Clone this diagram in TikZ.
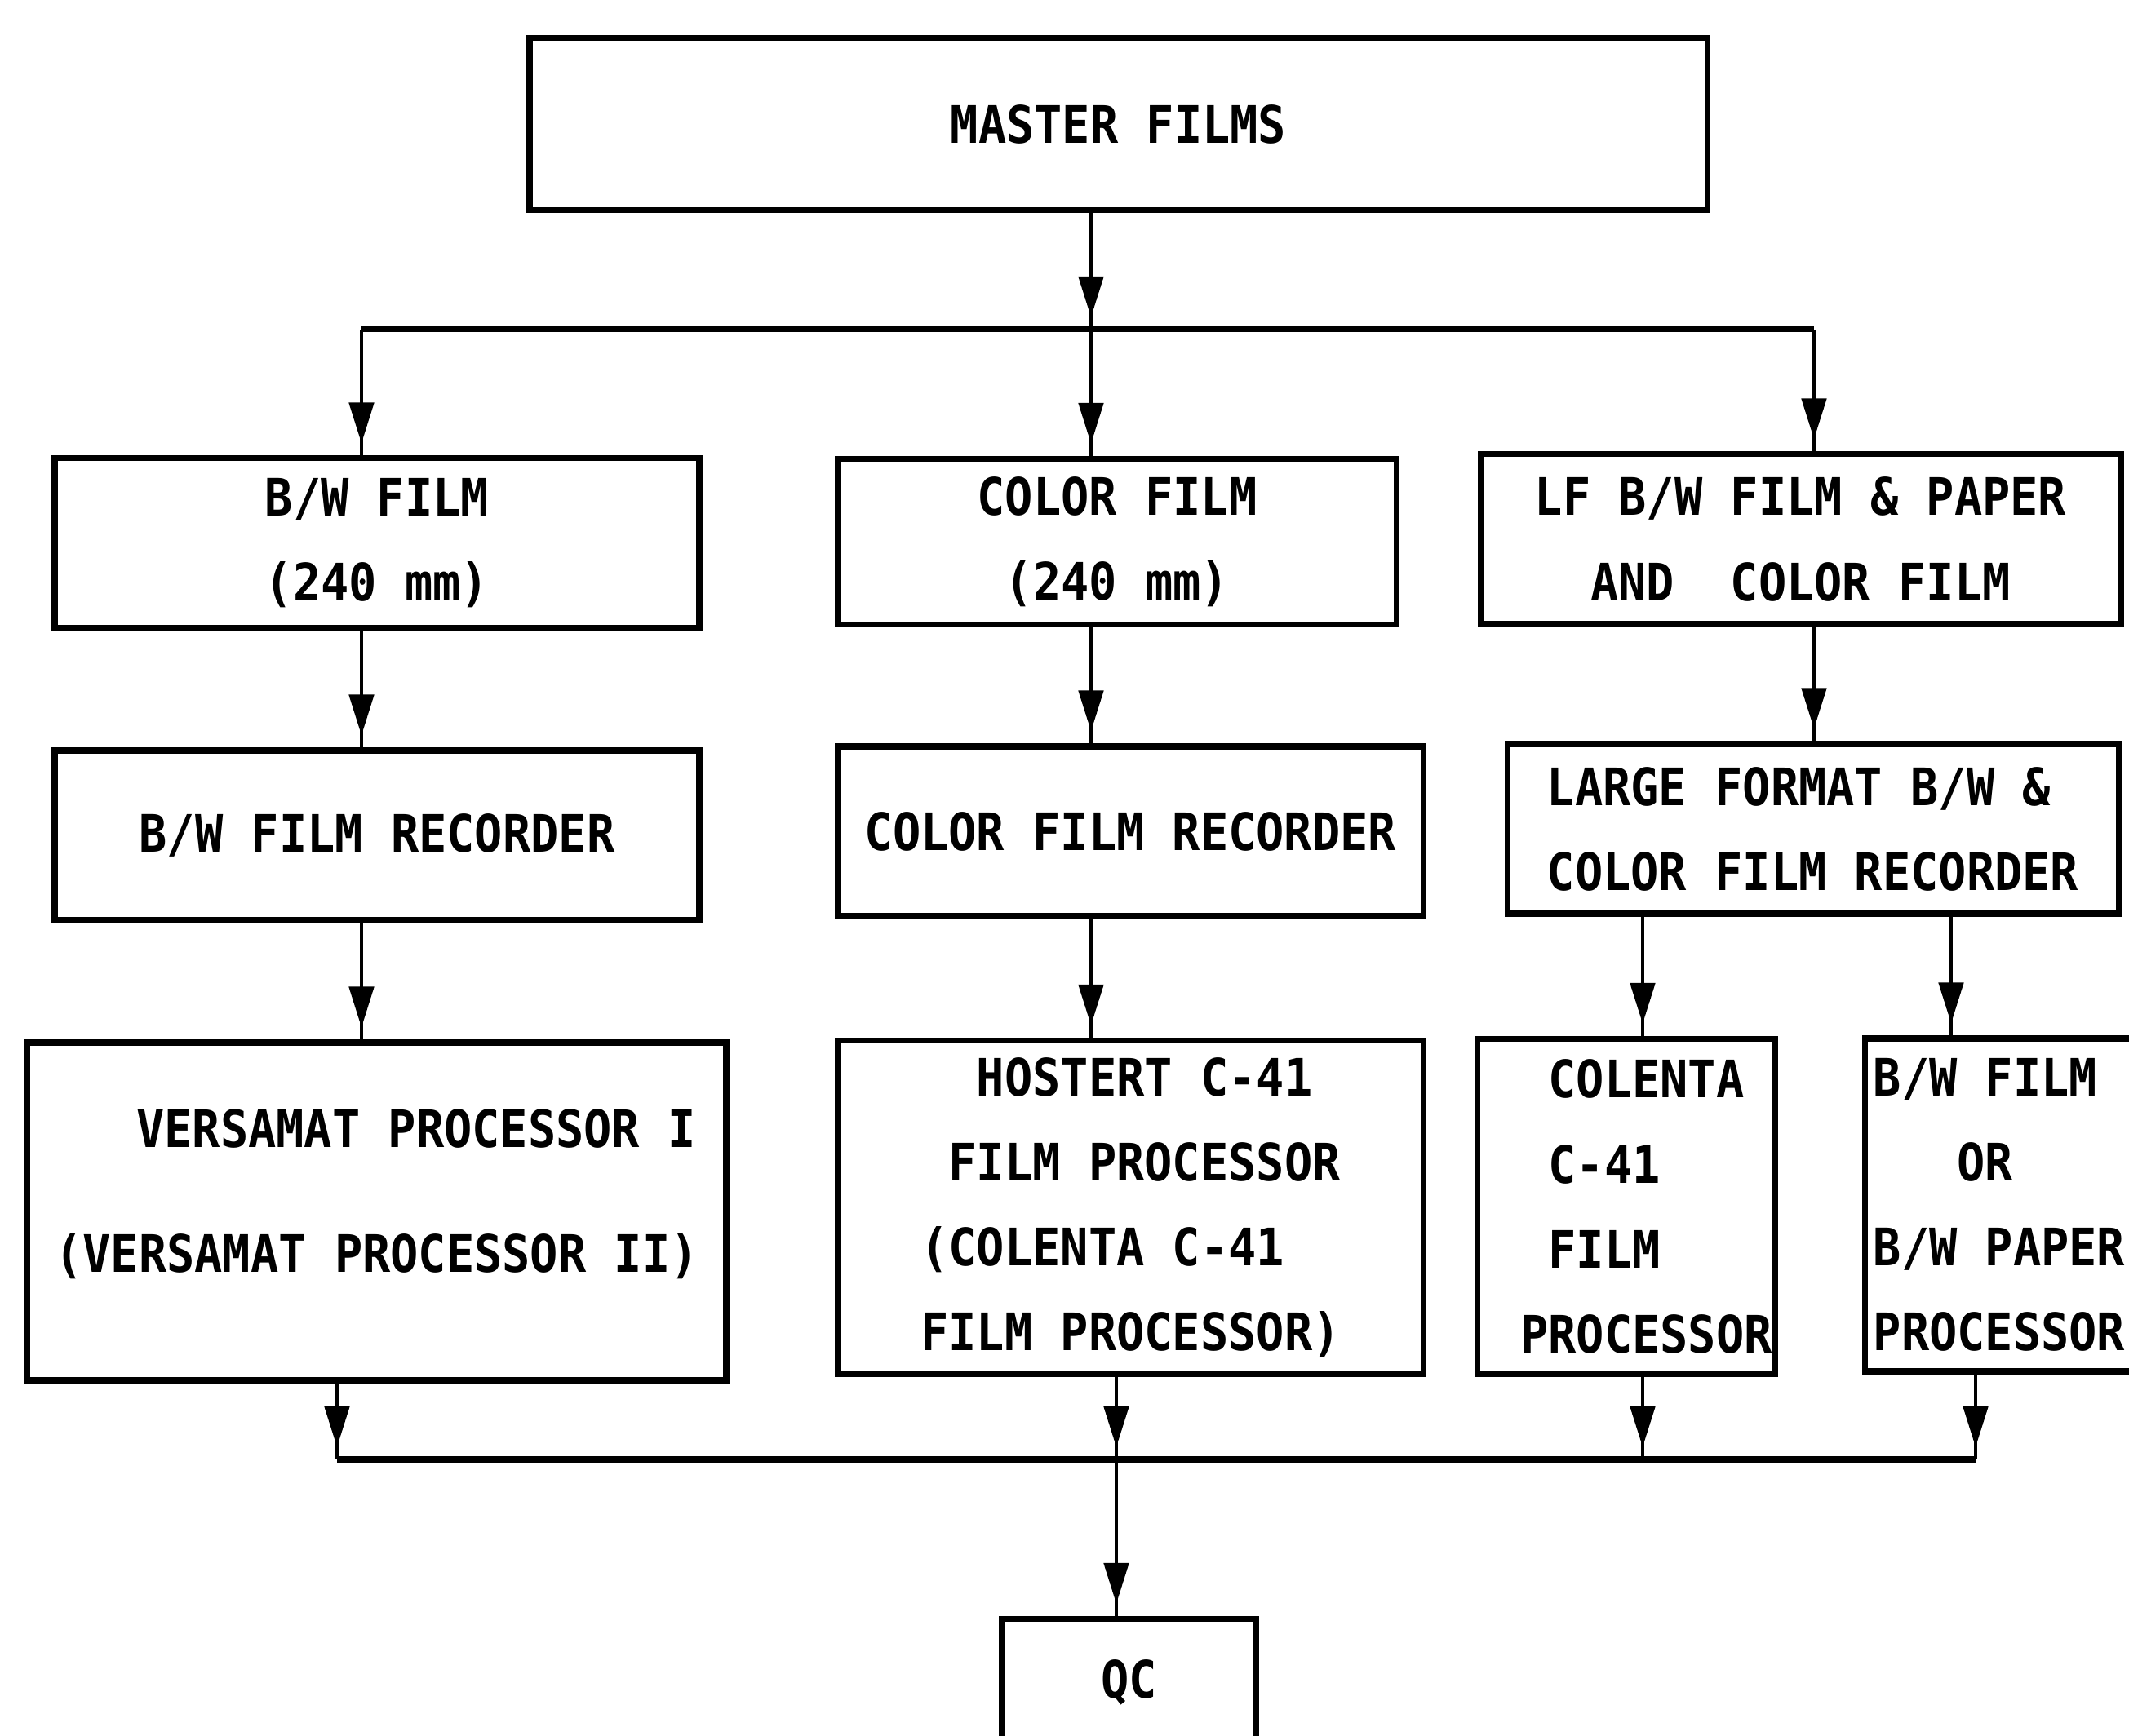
\documentclass[tikz,border=0pt]{standalone}
\usepackage{fontspec}
\setmonofont{DejaVu Sans Mono}[FakeStretch=0.9]
\usetikzlibrary{arrows.meta,decorations.markings}

\begin{document}
\begin{tikzpicture}[
  box/.style={draw, line width=2pt, inner sep=0pt, font=\ttfamily\bfseries\fontsize{18pt}{29.6pt}\selectfont},
  busline/.style={line width=2pt},
  conn/.style={line width=1.4pt, postaction={decorate},
    decoration={markings, mark=at position -1.5mm with {\arrow{Triangle[width=3mm,length=5mm]}}}}]
  \useasboundingbox (0,0) rectangle (26.09,21.27);

  \node[box, minimum width=14.43cm, minimum height=2.11cm] (master) at (13.705,19.745) {MASTER FILMS};

  \node[box, align=center, minimum width=7.90cm, minimum height=2.08cm] (bwfilm) at (4.62,14.61) {B/W FILM\\(240 mm)};
  \node[box, align=center, minimum width=6.84cm, minimum height=2.03cm] (colfilm) at (13.69,14.63) {COLOR FILM\\(240 mm)};
  \node[box, align=left, minimum width=7.85cm, minimum height=2.08cm] (lffilm) at (22.065,14.66) {LF B/W FILM \& PAPER\\\phantom{XX}AND~~COLOR FILM};

  \node[box, minimum width=7.90cm, minimum height=2.08cm] (bwrec) at (4.62,11.03) {B/W FILM RECORDER};
  \node[box, minimum width=7.17cm, minimum height=2.08cm] (colrec) at (13.855,11.08) {COLOR FILM RECORDER};
  \node[box, align=left, minimum width=7.49cm, minimum height=2.08cm] (lfrec) at (22.215,11.11) {LARGE FORMAT B/W \&\\COLOR FILM RECORDER};

  \node[box, align=left, minimum width=8.57cm, minimum height=4.14cm] (versa) at (4.615,6.42) {\hspace*{1cm}VERSAMAT PROCESSOR I\\[0.49cm](VERSAMAT PROCESSOR II)\rule[-0.5cm]{0pt}{0pt}};
  \node[box, align=left, minimum width=7.17cm, minimum height=4.09cm] (hostert) at (13.855,6.47) {\phantom{XX}HOSTERT C-41\\\phantom{X}FILM PROCESSOR\\(COLENTA C-41\\FILM PROCESSOR)};
  \node[box, align=left, minimum width=3.65cm, minimum height=4.11cm] (colenta) at (19.925,6.48) {\hspace*{0.5cm}\phantom{X}COLENTA\\\hspace*{0.5cm}\phantom{X}C-41\\\hspace*{0.5cm}\phantom{X}FILM\\\hspace*{0.5cm}PROCESSOR};
  \node[box, align=left, minimum width=3.30cm, minimum height=4.08cm] (bwproc) at (24.50,6.50) {B/W FILM\\\phantom{XXX}OR\\B/W PAPER\\PROCESSOR};

  \node[box, minimum width=3.11cm, minimum height=1.55cm] (qc) at (13.835,0.65) {QC};

  \coordinate (bl) at (4.43,17.23);
  \coordinate (split) at (13.37,17.23);
  \coordinate (br) at (22.23,17.23);
  \coordinate (pd) at (23.91,10);
  \coordinate (ja) at (4.13,3.38);
  \coordinate (jb) at (13.68,3.38);
  \coordinate (jc) at (20.13,3.38);
  \coordinate (jd) at (24.21,3.38);

  \draw[conn] (master.south -| split) -- (split);
  \draw[busline] (bl) -- (br);
  \draw[conn] (bl) -- (bl |- bwfilm.north);
  \draw[conn] (split) -- (split |- colfilm.north);
  \draw[conn] (br) -- (br |- lffilm.north);

  \draw[conn] (bwfilm.south -| bl) -- (bwrec.north -| bl);
  \draw[conn] (colfilm.south -| split) -- (colrec.north -| split);
  \draw[conn] (lffilm.south -| br) -- (lfrec.north -| br);

  \draw[conn] (bwrec.south -| bl) -- (versa.north -| bl);
  \draw[conn] (colrec.south -| split) -- (hostert.north -| split);
  \draw[conn] (lfrec.south -| jc) -- (colenta.north -| jc);
  \draw[conn] (lfrec.south -| pd) -- (bwproc.north -| pd);

  \draw[busline] (ja) -- (jd);
  \draw[conn] (versa.south -| ja) -- (ja);
  \draw[conn] (hostert.south -| jb) -- (jb);
  \draw[conn] (colenta.south -| jc) -- (jc);
  \draw[conn] (bwproc.south -| jd) -- (jd);
  \draw[conn] (jb) -- (qc.north -| jb);
\end{tikzpicture}
\end{document}
